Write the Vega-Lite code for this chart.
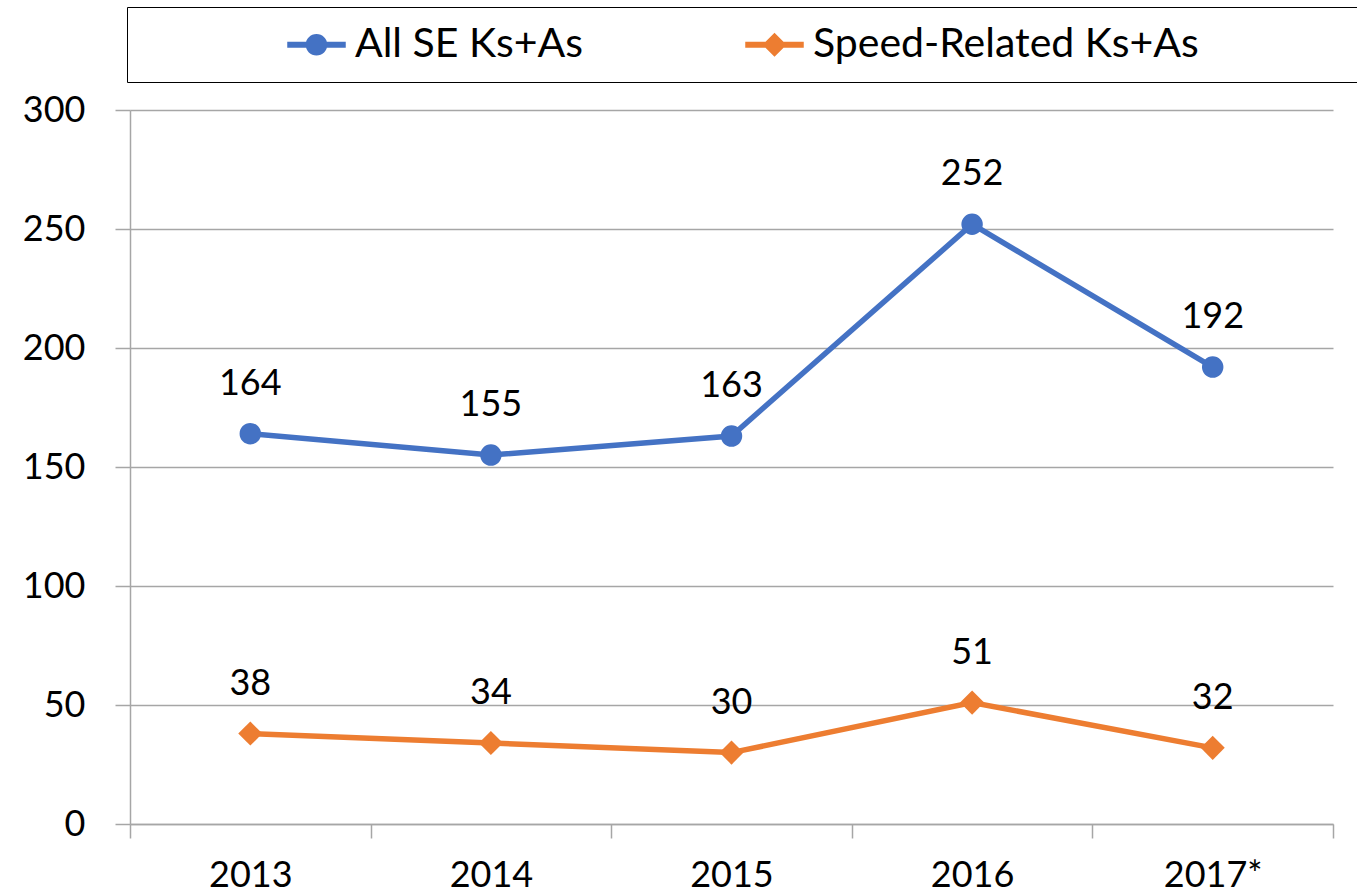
{
  "$schema": "https://vega.github.io/schema/vega-lite/v6.json",
  "width": 1203,
  "height": 714,
  "autosize": {"type": "none"},
  "padding": {"left": 130, "top": 110, "right": 24, "bottom": 72},
  "background": "white",
  "config": {
    "font": "Lato",
    "view": {"stroke": null},
    "axis": {"labelFont": "Lato", "labelColor": "black", "labelFontSize": 36, "titleFont": "Lato"},
    "legend": {"labelFont": "Lato"}
  },
  "data": {
    "values": [
      {"year": "2013", "series": "All SE Ks+As", "value": 164},
      {"year": "2014", "series": "All SE Ks+As", "value": 155},
      {"year": "2015", "series": "All SE Ks+As", "value": 163},
      {"year": "2016", "series": "All SE Ks+As", "value": 252},
      {"year": "2017*", "series": "All SE Ks+As", "value": 192},
      {"year": "2013", "series": "Speed-Related Ks+As", "value": 38},
      {"year": "2014", "series": "Speed-Related Ks+As", "value": 34},
      {"year": "2015", "series": "Speed-Related Ks+As", "value": 30},
      {"year": "2016", "series": "Speed-Related Ks+As", "value": 51},
      {"year": "2017*", "series": "Speed-Related Ks+As", "value": 32}
    ]
  },
  "encoding": {
    "x": {
      "field": "year", "type": "nominal", "bandPosition": 0.5,
      "scale": {"type": "band", "paddingInner": 0, "paddingOuter": 0},
      "axis": {
        "title": null, "labelAngle": 0, "grid": false, "tickBand": "extent",
        "domain": true, "domainColor": "#a6a6a6", "domainWidth": 1.5,
        "ticks": true, "tickColor": "#a6a6a6", "tickSize": 14, "tickWidth": 1.5,
        "labelPadding": 20
      }
    },
    "y": {
      "field": "value", "type": "quantitative",
      "scale": {"domain": [0, 300], "nice": false, "zero": true},
      "axis": {
        "title": null, "values": [0, 50, 100, 150, 200, 250, 300],
        "grid": true, "gridColor": "#a6a6a6", "gridWidth": 1.5,
        "domain": true, "domainColor": "#a6a6a6", "domainWidth": 1.5,
        "ticks": true, "tickColor": "#a6a6a6", "tickSize": 15, "tickWidth": 1.5,
        "labelPadding": 30, "labelBaseline": "middle"
      }
    },
    "color": {
      "field": "series", "type": "nominal",
      "scale": {"domain": ["All SE Ks+As", "Speed-Related Ks+As"], "range": ["#4472C4", "#ED7D31"]},
      "legend": {
        "title": null, "orient": "none", "direction": "horizontal",
        "legendX": -3, "legendY": -103,
        "strokeColor": "black", "padding": 17,
        "labelFontSize": 41, "labelColor": "black", "labelLimit": 1000,
        "symbolSize": 900, "symbolStrokeWidth": 0,
        "symbolType": "M-1.95,-0.2H1.95V0.2H-1.95Z M0.72,0A0.72,0.72 0 1,1 -0.72,0A0.72,0.72 0 1,1 0.72,0Z",
        "symbolOffset": 152, "labelOffset": 18, "columnPadding": 18,
        "labelExpr": "datum.label == 'Speed-Related Ks+As' ? datum.label + '\u2800\u2800\u2800\u2800\u2800' : datum.label",
        "encode": {
          "symbols": {
            "update": {
              "shape": {"signal": "datum.value == 'All SE Ks+As' ? 'M-1.95,-0.2H1.95V0.2H-1.95Z M0.72,0A0.72,0.72 0 1,1 -0.72,0A0.72,0.72 0 1,1 0.72,0Z' : 'M-1.95,-0.2H1.95V0.2H-1.95Z M0.8,0L0,0.8L-0.8,0L0,-0.8Z'"},
              "fill": {"signal": "scale('color', datum.value)"},
              "fillOpacity": {"value": 1},
              "strokeWidth": {"value": 0}
            }
          }
        }
      }
    }
  },
  "layer": [
    {"mark": {"type": "line", "strokeWidth": 5.5}},
    {
      "mark": {"type": "point", "filled": true, "opacity": 1},
      "encoding": {
        "shape": {
          "condition": {"test": "datum.series == 'All SE Ks+As'", "value": "circle"},
          "value": "diamond"
        },
        "size": {
          "condition": {"test": "datum.series == 'All SE Ks+As'", "value": 460},
          "value": 580
        }
      }
    },
    {
      "mark": {"type": "text", "dy": -50, "fontSize": 36, "font": "Lato", "color": "black", "baseline": "middle"},
      "encoding": {
        "text": {"field": "value", "type": "quantitative"},
        "color": {"value": "black"}
      }
    }
  ]
}
